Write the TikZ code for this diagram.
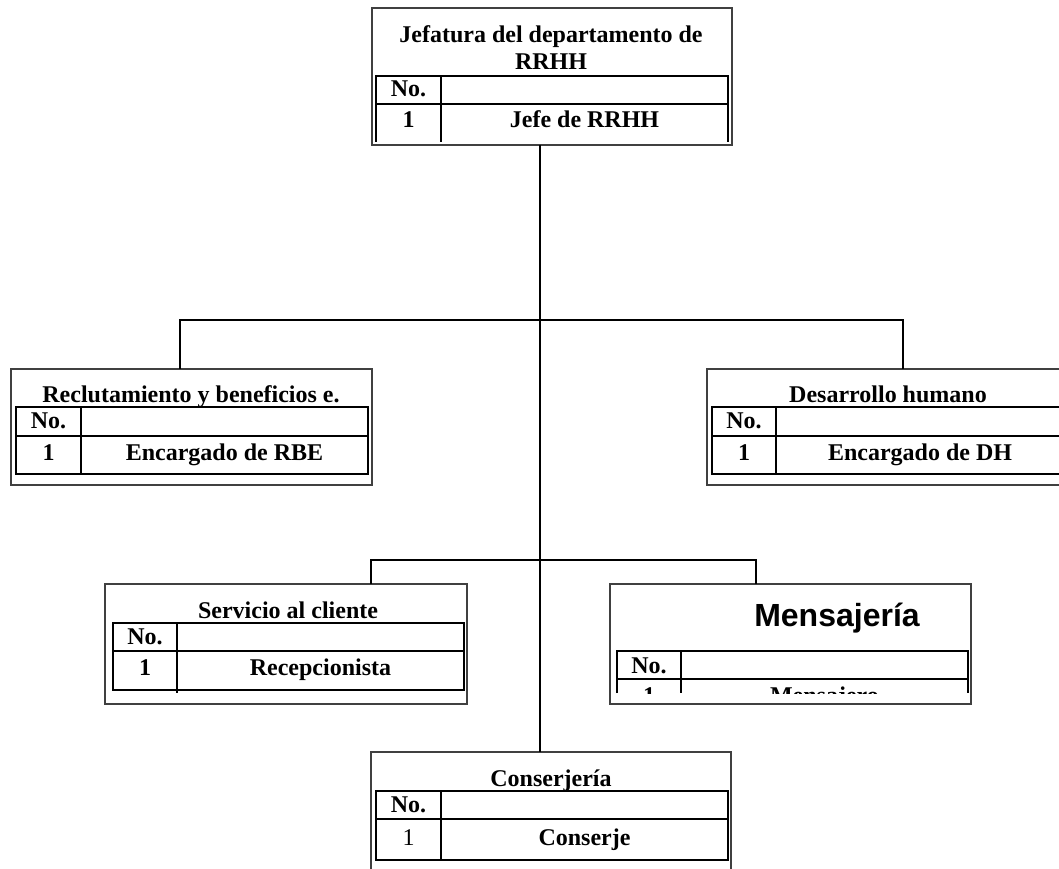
\documentclass[tikz,border=0pt]{standalone}
\usepackage{fontspec}
\setmainfont{Liberation Serif}
\newfontfamily\arialfont{Liberation Sans}
\begin{document}
\begin{tikzpicture}[x=1pt,y=-1pt,
  outerbox/.style={draw=black!75,line width=1.2pt,inner sep=0pt,outer sep=0pt,anchor=north west},
  tab/.style={line width=2pt,black},
  conn/.style={line width=1.2pt,black},
  lbl/.style={font=\bfseries\fontsize{24}{27}\selectfont,anchor=base,inner sep=0pt},
  lblr/.style={font=\fontsize{24}{27}\selectfont,anchor=base,inner sep=0pt},
  big/.style={font=\arialfont\bfseries\fontsize{32}{36}\selectfont,anchor=base,inner sep=0pt}]
\useasboundingbox (0,0) rectangle (1059,869);
\clip (0,0) rectangle (1059,869);
\fill[white] (0,0) rectangle (1059,869);

% ---------- boxes ----------
\node[outerbox,minimum width=360pt,minimum height=137pt] (jefe) at (372,8) {};
\node[outerbox,minimum width=361pt,minimum height=116pt] (rbe) at (11,369) {};
\node[outerbox,minimum width=361pt,minimum height=116pt] (dh) at (707,369) {};
\node[outerbox,minimum width=362pt,minimum height=120pt] (serv) at (105,584) {};
\node[outerbox,minimum width=361pt,minimum height=120pt] (mens) at (610,584) {};
\node[outerbox,minimum width=360pt,minimum height=130pt] (cons) at (371,752) {};

% ---------- connectors ----------
\coordinate (busA) at (540,320);
\coordinate (busB) at (540,560);
\draw[conn] ([xshift=-12pt]jefe.south) -- ([xshift=-11pt]cons.north);
\draw[conn] ([xshift=-11.5pt]rbe.north) |- (busA) -| ([xshift=15.5pt]dh.north);
\draw[conn] ([xshift=85pt]serv.north) |- (busB) -| ([xshift=-34.5pt]mens.north);

% ---------- Jefatura ----------
\draw[tab] (376,142) -- (376,76) -- (728,76) -- (728,142);
\draw[tab] (376,104) -- (728,104);
\draw[tab] (441,76) -- (441,142);
\node[lbl] (jt1) at (551,43) {Jefatura del departamento de};
\node[lbl] (jt2) at (551,70) {RRHH};
\node[lbl] (jno) at (408.5,97) {No.};
\node[lbl] (jn1) at (408.5,128) {1};
\node[lbl] (jp1) at (584.5,128) {Jefe de RRHH};

% ---------- Reclutamiento ----------
\draw[tab] (16,407) rectangle (368,474);
\draw[tab] (16,436) -- (368,436);
\draw[tab] (81,407) -- (81,474);
\node[lbl] (rt) at (191,402) {Reclutamiento y beneficios e.};
\node[lbl] (rno) at (48.5,428) {No.};
\node[lbl] (rn1) at (48.5,460) {1};
\node[lbl] (rp1) at (224.5,460) {Encargado de RBE};

% ---------- Desarrollo humano ----------
\draw[tab] (712,407) rectangle (1064,474);
\draw[tab] (712,436) -- (1064,436);
\draw[tab] (776,407) -- (776,474);
\node[lbl] (dt) at (888,402) {Desarrollo humano};
\node[lbl] (dno) at (744,428) {No.};
\node[lbl] (dn1) at (744,460) {1};
\node[lbl] (dp1) at (920,460) {Encargado de DH};

% ---------- Servicio al cliente ----------
\draw[tab] (113,623) rectangle (464,690);
\draw[tab] (113,651) -- (464,651);
\draw[tab] (177,623) -- (177,693);
\node[lbl] (st) at (288,618) {Servicio al cliente};
\node[lbl] (sno) at (145,644) {No.};
\node[lbl] (sn1) at (145,675) {1};
\node[lbl] (sp1) at (320.5,675) {Recepcionista};

% ---------- Mensajeria ----------
\draw[tab] (617,693) -- (617,651) -- (968,651) -- (968,693);
\draw[tab] (617,679) -- (968,679);
\draw[tab] (681,651) -- (681,693);
\node[big] (mt) at (837,626) {Mensajería};
\node[lbl] (mno) at (649,673) {No.};
\begin{scope}
\clip (617,679) rectangle (968,693);
\node[lbl] (mn1) at (649,703) {1};
\node[lbl] (mp1) at (824.5,703) {Mensajero};
\end{scope}

% ---------- Conserjeria ----------
\draw[tab] (376,791) rectangle (728,860);
\draw[tab] (376,819) -- (728,819);
\draw[tab] (441,791) -- (441,860);
\node[lbl] (ct) at (551,786) {Conserjería};
\node[lbl] (cno) at (408.5,812) {No.};
\node[lblr] (cn1) at (408.5,845) {1};
\node[lbl] (cp1) at (584.5,845) {Conserje};
\end{tikzpicture}
\end{document}
